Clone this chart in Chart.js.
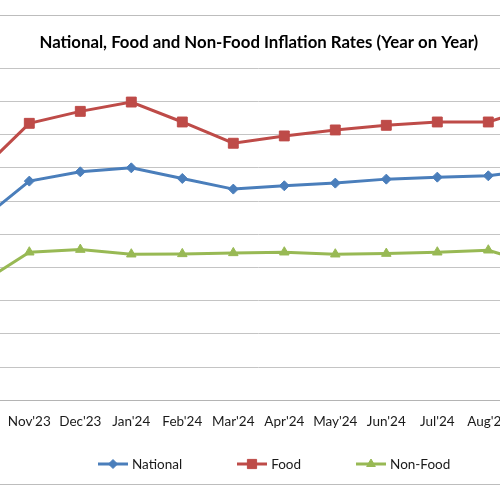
<!DOCTYPE html>
<html>
<head>
<meta charset="utf-8">
<title>National, Food and Non-Food Inflation Rates</title>
<script src="https://cdn.jsdelivr.net/npm/chart.js@4.4.1/dist/chart.umd.min.js"></script>
<style>
    html, body { margin: 0; padding: 0; background: #fff; }
    #wrap { position: relative; width: 500px; height: 500px; overflow: hidden; }
    /* 图表外框：只看得到上下两条边 */
    #frame { position: absolute; left: -10px; right: -10px; top: 15px; height: 468px;
             border-top: 1px solid #bdbdbd; border-bottom: 1px solid #bdbdbd; }
    /* 画布比窗口宽，两端月份落在窗口外 */
    #box { position: absolute; left: -56px; top: 0; width: 620px; height: 500px; }
    #legend { position: absolute; left: 98px; top: 456px; display: flex; gap: 55px;
              font: 13.5px Lato, sans-serif; color: #1a1a1a; }
    .item { display: flex; align-items: center; gap: 4px; }
</style>
</head>
<body>
<div id="wrap">
    <div id="frame"></div>
    <div id="box"><canvas id="inflationChart"></canvas></div>
    <div id="legend"></div>
</div>
<script>
/* ==================== 数据 ==================== */
const months   = ["Oct'23", "Nov'23", "Dec'23", "Jan'24", "Feb'24", "Mar'24",
                  "Apr'24", "May'24", "Jun'24", "Jul'24", "Aug'24", "Sep'24"];
const national = [26.8, 33.0, 34.4, 35.0, 33.4, 31.8, 32.3, 32.7, 33.3, 33.6, 33.8, 34.8];
const food     = [34.2, 41.7, 43.5, 44.9, 41.9, 38.7, 39.8, 40.7, 41.4, 41.9, 41.9, 44.3];
const nonFood  = [17.4, 22.3, 22.7, 22.0, 22.05, 22.2, 22.3, 22.0, 22.1, 22.3, 22.6, 20.3];

const yMin = 0, yMax = 50, yStep = 5;

const FONT = 'Lato, sans-serif';

document.addEventListener('DOMContentLoaded', () => {
    const ctx = document.getElementById('inflationChart');

    const chart = new Chart(ctx, {
        type: 'line',
        data: {
            labels: months,
            datasets: [
                { label: 'National', data: national, borderColor: '#4a7ebb', backgroundColor: '#4a7ebb',
                  pointStyle: 'rectRot', pointRadius: 5 },
                { label: 'Food', data: food, borderColor: '#be4b48', backgroundColor: '#be4b48',
                  pointStyle: 'rect', pointRadius: 7 },
                { label: 'Non-Food', data: nonFood, borderColor: '#98b954', backgroundColor: '#98b954',
                  pointStyle: 'triangle', pointRadius: 5.5 }
            ]
        },
        options: {
            responsive: true,
            maintainAspectRatio: false,
            animation: false,
            elements: {
                line: { borderWidth: 3, tension: 0 },
                point: { borderWidth: 1, hoverRadius: 6 }
            },
            layout: {
                autoPadding: false,
                padding: { left: 34.3, right: 24.7, top: 30, bottom: 68.4 }
            },
            plugins: {
                legend: { display: false },
                tooltip: { enabled: false },
                title: {
                    display: true,
                    text: 'National, Food and Non-Food Inflation Rates (Year on Year)',
                    color: '#000',
                    font: { family: FONT, size: 16.8, weight: 'bold' },
                    padding: { top: 3, bottom: 15 }
                }
            },
            scales: {
                x: {
                    offset: false,
                    // 不画竖网格；刻度线透明，只用来把标签往下推
                    grid: { display: false, drawTicks: true, tickLength: 11, tickColor: 'rgba(0,0,0,0)' },
                    border: { display: true, color: '#b4b4b4', width: 1 },
                    ticks: { color: '#1a1a1a', font: { family: FONT, size: 13.5 },
                             padding: 2, maxRotation: 0, autoSkip: false }
                },
                y: {
                    min: yMin, max: yMax,
                    grid: { color: '#c4c4c4', lineWidth: 1, drawTicks: false },
                    border: { display: false },
                    ticks: { display: false, stepSize: yStep }
                }
            }
        }
    });

    /* ==================== HTML 图例：线 + 标记 ==================== */
    const legendEl = document.getElementById('legend');
    chart.data.datasets.forEach(ds => {
        const item = document.createElement('div');
        item.className = 'item';
        const icon = document.createElement('canvas');
        icon.width = 30; icon.height = 14;
        const g = icon.getContext('2d');
        g.strokeStyle = ds.borderColor;
        g.fillStyle = ds.backgroundColor;
        g.lineWidth = 3;
        g.beginPath(); g.moveTo(0, 7); g.lineTo(30, 7); g.stroke();
        g.lineWidth = 1;
        Chart.helpers.drawPoint(g, { pointStyle: ds.pointStyle, radius: ds.pointRadius - 0.5, borderWidth: 1, rotation: 0 }, 15, 7);
        const text = document.createElement('span');
        text.textContent = ds.label;
        item.appendChild(icon);
        item.appendChild(text);
        legendEl.appendChild(item);
    });
});
</script>
</body>
</html>
